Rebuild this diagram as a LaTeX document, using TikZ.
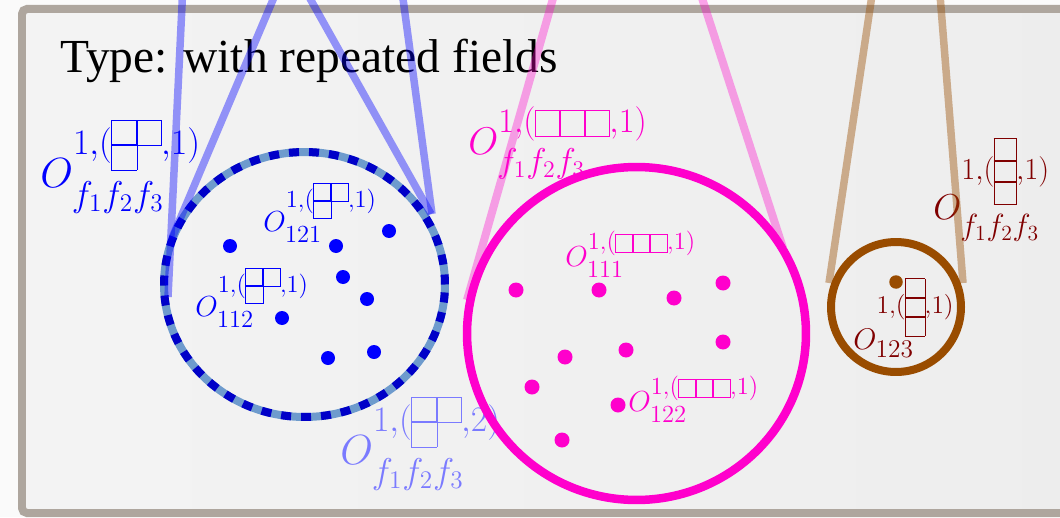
\RequirePackage{fix-cm}
\documentclass[tikz,border=0pt]{standalone}
\usepackage[no-math]{fontspec}
\newfontfamily\titlefont{Liberation Serif}
\usepackage{tikz}
\usetikzlibrary{shapes.geometric}

\definecolor{framegray}{RGB}{174,166,158}
\definecolor{ringblue}{RGB}{110,155,205}
\definecolor{dashblue}{RGB}{0,0,200}
\definecolor{pinkmag}{RGB}{255,0,204}
\definecolor{ringbrown}{RGB}{153,76,0}
\definecolor{darkred}{RGB}{128,0,0}
\definecolor{lightbl}{RGB}{122,122,255}

% math sizes with large scripts
\DeclareMathSizes{24}{24}{20.4}{14.4}
\DeclareMathSizes{22}{22}{19.6}{13.6}
\DeclareMathSizes{20.5}{20.5}{17.4}{12.3}
\DeclareMathSizes{17}{17}{14.5}{10.2}
\DeclareMathSizes{16.5}{16.5}{14}{9.9}

% Young diagrams (picture mode, size = \unitlength)
\newcommand{\ydbox}[2]{\put(#1,#2){\framebox(1,1){}}}
\newcommand{\ydwrap}[1]{\vcenter{\vskip1.6pt\hbox{\linethickness{0.45pt}#1}\vskip1.6pt}}
\newcommand{\ydtwoone}{\ydwrap{\begin{picture}(2,2)\ydbox{0}{1}\ydbox{1}{1}\ydbox{0}{0}\end{picture}}}
\newcommand{\ydthree}{\ydwrap{\begin{picture}(3,1)\ydbox{0}{0}\ydbox{1}{0}\ydbox{2}{0}\end{picture}}}
\newcommand{\ydcol}{\ydwrap{\begin{picture}(1,3)\ydbox{0}{0}\ydbox{0}{1}\ydbox{0}{2}\end{picture}}}
% lowered subscript (keeps its height for the script spacing)
\newcommand{\dsub}[2]{\raisebox{-#1}[\height]{$\scriptstyle #2$}}

\begin{document}
\begin{tikzpicture}[
    x=0.02cm, y=-0.02cm,
    lab/.style 2 args={anchor=base west, inner sep=0pt, font=\fontsize{#1}{#1}\selectfont\setlength{\unitlength}{#2}},
    bdot/.style={circle, fill=blue, inner sep=0pt, minimum size=0.28cm},
    mdot/.style={circle, fill=pinkmag, inner sep=0pt, minimum size=0.3cm},
    odot/.style={circle, fill=ringbrown, inner sep=0pt, minimum size=0.27cm},
    ringb/.style={ellipse, draw=ringblue, line width=0.16cm, inner sep=0pt,
        minimum width=5.62cm, minimum height=5.3cm,
        postaction={draw=dashblue, dash pattern=on 0.2cm off 0.2cm}},
    ringm/.style={ellipse, draw=pinkmag, line width=0.17cm, inner sep=0pt,
        minimum width=6.78cm, minimum height=6.66cm},
    ringo/.style={circle, draw=ringbrown, line width=0.16cm, inner sep=0pt, minimum size=2.6cm},
    bproj/.style={blue, opacity=0.4, line width=0.15cm},
    mproj/.style={pinkmag, opacity=0.35, line width=0.16cm},
    oproj/.style={ringbrown, opacity=0.42, line width=0.15cm}
]
\useasboundingbox (0,0) rectangle (1060,517);
\clip (0,0) rectangle (1060,517);

% Background and frame
\fill[white!98!black] (0,0) rectangle (1060,517);
\shade[left color=white!95.5!black, right color=white!93!black] (22,9) rectangle (1080,513);
\draw[framegray, line width=0.16cm, rounded corners=0.1cm] (22,9) rectangle (1080,513);

\node[anchor=base west, inner sep=0pt, font=\titlefont\fontsize{27pt}{30pt}\selectfont] (title) at (60,72) {Type: with repeated fields};

% Labels
\node[lab={24pt}{14pt}, text=blue] (lbBig) at (40,187) {$O^{1,(\ydtwoone,1)}_{\dsub{3.5pt}{f_1f_2f_3}}$};
\node[lab={16.5pt}{9.7pt}, text=blue] (lb121) at (263,231) {$O^{1,(\ydtwoone,1)}_{\dsub{1.5pt}{121}}$};
\node[lab={16.5pt}{9.7pt}, text=blue] (lb112) at (195,316) {$O^{1,(\ydtwoone,1)}_{\dsub{1.5pt}{112}}$};
\node[lab={24pt}{14pt}, text=lightbl] (lbRep) at (340,464) {$O^{1,(\ydtwoone,2)}_{\dsub{3.5pt}{f_1f_2f_3}}$};
\node[lab={22pt}{14pt}, text=pinkmag] (lbSym) at (468,154) {$O^{1,(\ydthree,1)}_{\dsub{3pt}{f_1f_2f_3}}$};
\node[lab={16.5pt}{9.7pt}, text=pinkmag] (lb111) at (565,266) {$O^{1,(\ydthree,1)}_{\dsub{1.5pt}{111}}$};
\node[lab={16.5pt}{9.7pt}, text=pinkmag] (lb122) at (628,411) {$O^{1,(\ydthree,1)}_{\dsub{1.5pt}{122}}$};
\node[lab={20.5pt}{12.3pt}, text=darkred] (lbAnti) at (933,219) {$O^{1,(\ydcol,1)}_{\dsub{3pt}{f_1f_2f_3}}$};
\node[lab={17pt}{10.8pt}, text=darkred] (lb123) at (853,349) {$O^{1,(\ydcol,1)}_{123}$};

% Rings
\node[ringb] (ringB) at (304.5,284.5) {};
\node[ringm] (ringM) at (636.5,333.5) {};
\node[ringo] (ringO) at (896,307) {};

% Dots
\foreach \p [count=\i] in {(230,246),(336,246),(389,231),(343,277),(367,299),(282,318),(328,358),(374,352)}
  \node[bdot] (bd\i) at \p {};
\foreach \p [count=\i] in {(516,290),(599,290),(674,298),(723,283),(565,357),(626,350),(723,342),(532,387),(618,405),(562,440)}
  \node[mdot] (md\i) at \p {};
\node[odot] (od1) at (896,282) {};

% Projection lines
\coordinate (bt1) at (182.5,-5);  \coordinate (bb1) at (168,297);
\coordinate (bt2) at (275,-5);    \coordinate (bb2) at (172,238);
\coordinate (bt3) at (308,-5);    \coordinate (bb3) at (431,214);
\coordinate (bt4) at (402.5,-5);  \coordinate (bb4) at (432,214);
\draw[bproj] (bt1) -- (bb1);
\draw[bproj] (bt2) -- (bb2);
\draw[bproj] (bt3) -- (bb3);
\draw[bproj] (bt4) -- (bb4);

\coordinate (mt1) at (554,-5);  \coordinate (mb1) at (467,300);
\coordinate (mt2) at (701,-5);  \coordinate (mb2) at (783,248);
\draw[mproj] (mt1) -- (mb1);
\draw[mproj] (mt2) -- (mb2);

\coordinate (ot1) at (872,-5);  \coordinate (ob1) at (829,283);
\coordinate (ot2) at (940,-5);  \coordinate (ob2) at (963,283);
\draw[oproj] (ot1) -- (ob1);
\draw[oproj] (ot2) -- (ob2);

\end{tikzpicture}
\end{document}
